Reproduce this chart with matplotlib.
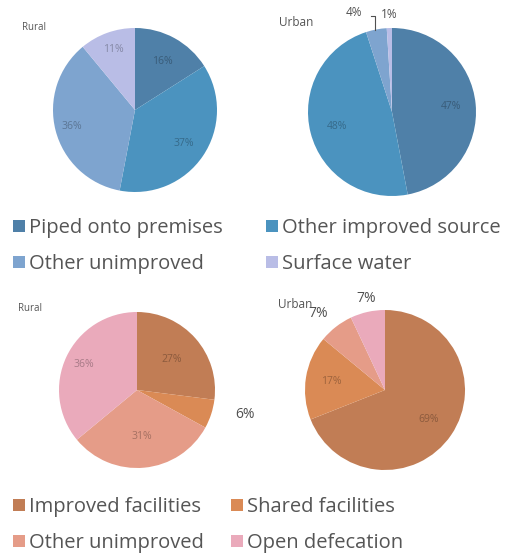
import matplotlib
matplotlib.use("Agg")
import matplotlib.pyplot as plt
import numpy as np
from matplotlib.patches import Patch
import matplotlib.colors as mcolors

plt.rcParams['font.family'] = ['Open Sans', 'DejaVu Sans']

water_labels = ["Piped onto premises", "Other improved source", "Other unimproved", "Surface water"]
water_rural = [16, 37, 36, 11]
water_urban = [47, 48, 4, 1]
water_colors = ["#4f80a8", "#4b93bf", "#7ea4cf", "#b9bde6"]

san_labels = ["Improved facilities", "Shared facilities", "Other unimproved", "Open defecation"]
san_rural = [27, 6, 31, 36]
san_urban = [69, 17, 7, 7]
san_colors = ["#c17d55", "#da8a55", "#e59c88", "#eaaabb"]

W, H = 512, 553
fig = plt.figure(figsize=(W / 100, H / 100), dpi=100)
fig.patch.set_facecolor("white")


def pie_axes(cx, cy, r):
    ax = fig.add_axes([(cx - r) / W, (H - cy - r) / H, 2 * r / W, 2 * r / H])
    ax.set_xlim(-1, 1)
    ax.set_ylim(-1, 1)
    ax.axis("off")
    return ax


def darker(c, f=0.72):
    rgb = np.array(mcolors.to_rgb(c))
    return tuple(rgb * f)


def draw_pie(ax, vals, colors, inside, outside):
    wedges, _ = ax.pie(vals, colors=colors, startangle=90, counterclock=False,
                       radius=1.0, wedgeprops=dict(linewidth=0))
    ax.set_xlim(-1, 1)
    ax.set_ylim(-1, 1)
    total = sum(vals)
    cum = 0
    for i, v in enumerate(vals):
        mid = (cum + v / 2) / total * 360
        cum += v
        th = np.deg2rad(mid)
        if i in inside:
            d = inside[i]
            ax.text(d * np.sin(th), d * np.cos(th), f"{v}%", ha="center", va="center",
                    fontsize=7.5, color=darker(colors[i]))
        if i in outside:
            dx, dy = outside[i]
            ax.text(dx, dy, f"{v}%", ha="center", va="center",
                    fontsize=10, color="#505050", clip_on=False)
    return wedges


# Water pies
ax1 = pie_axes(135, 110, 82)
draw_pie(ax1, water_rural, water_colors, {0: 0.68, 1: 0.72, 2: 0.8, 3: 0.78}, {})
ax1.text(-1.38, 1.0, "Rural", fontsize=7, color="#555555", ha="left", va="center", clip_on=False)

ax2 = pie_axes(392, 112, 84)
draw_pie(ax2, water_urban, water_colors, {0: 0.7, 1: 0.68}, {})
ax2.text(-1.34, 1.07, "Urban", fontsize=8.5, color="#555555", ha="left", va="center", clip_on=False)
ax2.text(-0.45, 1.18, f"{water_urban[2]}%", fontsize=8.5, color="#505050", ha="center", va="center", clip_on=False)
ax2.text(-0.03, 1.16, f"{water_urban[3]}%", fontsize=8.5, color="#505050", ha="center", va="center", clip_on=False)
ax2.plot([-0.25, -0.2, -0.2], [1.14, 1.14, 0.98], color="#505050", lw=0.8, clip_on=False)

# Sanitation pies
ax3 = pie_axes(137, 390, 78)
draw_pie(ax3, san_rural, san_colors, {0: 0.6, 2: 0.6, 3: 0.76}, {1: (1.38, -0.32)})
ax3.text(-1.53, 1.05, "Rural", fontsize=7, color="#555555", ha="left", va="center", clip_on=False)

ax4 = pie_axes(385, 390, 80)
draw_pie(ax4, san_urban, san_colors, {0: 0.66, 1: 0.68}, {2: (-0.83, 0.96), 3: (-0.24, 1.15)})
ax4.text(-1.34, 1.07, "Urban", fontsize=8.5, color="#555555", ha="left", va="center", clip_on=False)


# Legends: one legend per column for exact placement
def legend_col(labels, colors, idx, x0, y_top):
    handles = [Patch(facecolor=colors[i], edgecolor="none") for i in idx]
    leg = fig.legend(handles, [labels[i] for i in idx], ncol=1, loc="upper left",
                     bbox_to_anchor=(x0 / W, 1 - y_top / H), frameon=False,
                     fontsize=14.5, handlelength=0.6, handleheight=0.6, handletextpad=0.2,
                     labelspacing=0.8, borderaxespad=0, borderpad=0,
                     labelcolor="#555555")
    return leg

legend_col(water_labels, water_colors, [0, 2], 13, 218)
legend_col(water_labels, water_colors, [1, 3], 266, 218)
legend_col(san_labels, san_colors, [0, 2], 13, 497)
legend_col(san_labels, san_colors, [1, 3], 231, 497)

fig.savefig("out.png", dpi=100, facecolor="white")
